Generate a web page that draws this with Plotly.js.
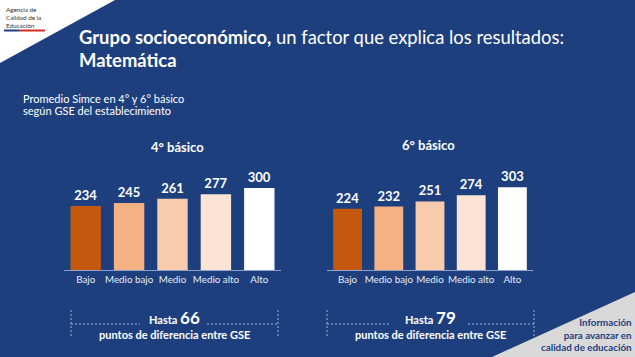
<!DOCTYPE html>
<html>
<head>
<meta charset="utf-8">
<script src="https://cdn.plot.ly/plotly-3.0.1.min.js"></script>
<style>html,body{margin:0;padding:0;background:#1e3f7e;}#chart{width:635px;height:357px;}</style>
</head>
<body>
<div id="chart"></div>
<script>
const categories = ["Bajo", "Medio bajo", "Medio", "Medio alto", "Alto"];
const values4 = [234, 245, 261, 277, 300];
const values6 = [224, 232, 251, 274, 303];
const panelTitles = ["4° básico", "6° básico"];
const barColors = ["#c5580f", "#f3b184", "#f8cbad", "#fbe4d6", "#ffffff"];

const W = 635, H = 357;
const px = x => x / W;
const py = y => 1 - y / H;
const FONT = "Lato, 'Open Sans', sans-serif";
const BG = "#1e3f7e";

const gap4 = Math.max(...values4) - Math.min(...values4);
const gap6 = Math.max(...values6) - Math.min(...values6);

const traces = [
  {type: "bar", x: categories, y: values4, xaxis: "x", yaxis: "y",
   marker: {color: barColors, line: {width: 0}},
   text: values4.map(String), textposition: "outside", cliponaxis: false,
   textfont: {family: FONT, size: 13, color: "#ffffff", weight: "bold"},
   hoverinfo: "skip"},
  {type: "bar", x: categories, y: values6, xaxis: "x2", yaxis: "y",
   marker: {color: barColors, line: {width: 0}},
   text: values6.map(String), textposition: "outside", cliponaxis: false,
   textfont: {family: FONT, size: 13, color: "#ffffff", weight: "bold"},
   hoverinfo: "skip"}
];

const axisCommon = {
  type: "category", showgrid: false, zeroline: false, showline: true,
  linecolor: "#8ea2c9", linewidth: 1, ticks: "",
  tickfont: {family: FONT, size: 9.8, color: "#e6ebf4"}, fixedrange: true
};

const dashColor = "#9fb2db";
const shapes = [
  {type: "path", xref: "paper", yref: "paper", layer: "below",
   path: `M 0 1 L ${px(115)} 1 L 0 ${py(63)} Z`, fillcolor: "#ffffff", line: {width: 0}},
  {type: "path", xref: "paper", yref: "paper", layer: "below",
   path: `M ${px(635)} ${py(292)} L ${px(635)} 0 L ${px(492)} 0 Z`, fillcolor: "#d9d9d9", line: {width: 0}},
  {type: "line", xref: "paper", yref: "paper", x0: px(4), x1: px(19), y0: py(30.5), y1: py(30.5), line: {color: BG, width: 2}},
  {type: "line", xref: "paper", yref: "paper", x0: px(19), x1: px(45), y0: py(30.5), y1: py(30.5), line: {color: "#d52b1e", width: 2}}
];
function bracket(x0, x1, t0, t1) {
  const s = {xref: "paper", yref: "paper", type: "line", line: {color: dashColor, width: 1, dash: "2px,2px"}};
  shapes.push(Object.assign({}, s, {x0: px(x0), x1: px(x0), y0: py(310), y1: py(338)}));
  shapes.push(Object.assign({}, s, {x0: px(x1), x1: px(x1), y0: py(310), y1: py(338)}));
  shapes.push(Object.assign({}, s, {x0: px(x0), x1: px(t0), y0: py(324), y1: py(324)}));
  shapes.push(Object.assign({}, s, {x0: px(t1), x1: px(x1), y0: py(324), y1: py(324)}));
}
bracket(71, 278, 140, 207);
bracket(327, 534, 390, 468);

const ann = (o) => Object.assign({xref: "paper", yref: "paper", showarrow: false, borderpad: 0}, o);
const line = (x, y, text, size, color, xanchor, bold) => ann({
  x: px(x), y: py(y), xanchor: xanchor || "left", yanchor: "middle",
  text: bold ? "<b>" + text + "</b>" : text, font: {family: FONT, size: size, color: color}
});
const annotations = [
  ann({x: px(5), y: py(17), xanchor: "left", yanchor: "middle", align: "left",
       text: "Agencia de<br>Calidad de la<br>Educación",
       font: {family: FONT, size: 6.3, color: "#333333"}}),
  ann({x: px(78), y: py(37), xanchor: "left", yanchor: "middle",
       text: "<b>Grupo socioeconómico,</b> un factor que explica los resultados:",
       font: {family: FONT, size: 18.4, color: "#ffffff"}}),
  line(78, 60, "Matemática", 18.4, "#ffffff", "left", true),
  line(22, 98, "Promedio Simce en 4° y 6° básico", 11, "#ffffff"),
  line(22, 110, "según GSE del establecimiento", 11, "#ffffff"),
  line(177, 147, panelTitles[0], 13, "#ffffff", "center", true),
  line(428, 145, panelTitles[1], 13, "#ffffff", "center", true),
  ann({x: px(174), y: py(317), xanchor: "center", yanchor: "middle",
       text: "<b>Hasta <span style='font-size:17px'>" + gap4 + "</span></b>", font: {family: FONT, size: 11, color: "#ffffff"}}),
  line(174, 334, "puntos de diferencia entre GSE", 11, "#ffffff", "center", true),
  ann({x: px(430), y: py(317), xanchor: "center", yanchor: "middle",
       text: "<b>Hasta <span style='font-size:17px'>" + gap6 + "</span></b>", font: {family: FONT, size: 11, color: "#ffffff"}}),
  line(430, 334, "puntos de diferencia entre GSE", 11, "#ffffff", "center", true),
  ann({x: px(633), y: py(334.5), xanchor: "right", yanchor: "middle", align: "right",
       text: "<b>Información<br>para avanzar en<br>calidad de educación</b>",
       font: {family: FONT, size: 9.8, color: BG}})
];

const layout = {
  width: W, height: H, margin: {l: 0, r: 0, t: 0, b: 0},
  paper_bgcolor: BG, plot_bgcolor: "rgba(0,0,0,0)",
  showlegend: false, bargap: 0.3,
  font: {family: FONT, color: "#ffffff"},
  xaxis: Object.assign({}, axisCommon, {domain: [px(64), px(281)], anchor: "y"}),
  xaxis2: Object.assign({}, axisCommon, {domain: [px(327), px(533)], anchor: "y"}),
  yaxis: {domain: [py(270), py(170)], range: [0, 366], visible: false, fixedrange: true},
  shapes: shapes, annotations: annotations
};

Plotly.newPlot("chart", traces, layout, {displayModeBar: false, staticPlot: true});
</script>
</body>
</html>
